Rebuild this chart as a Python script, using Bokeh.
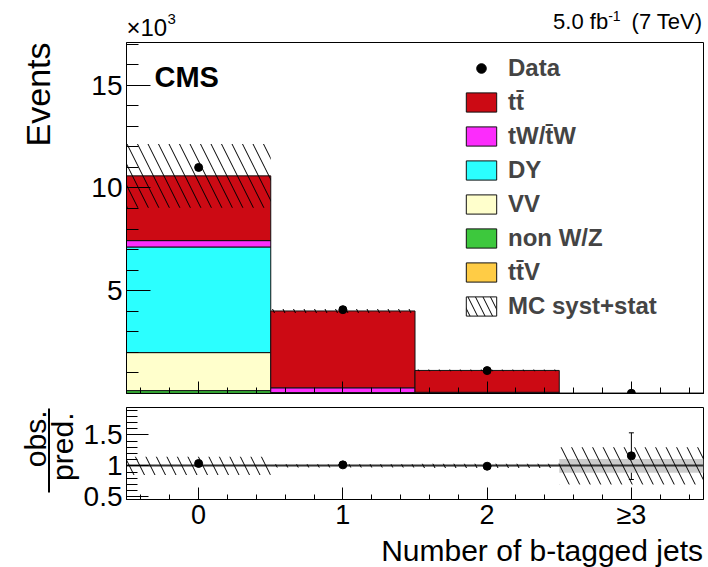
import numpy as np
from math import pi
from bokeh.plotting import figure
from bokeh.layouts import column, row
from bokeh.models import (ColumnDataSource, Range1d, FixedTicker, Label, Legend,
                          LegendItem, Whisker, TeeHead)
from bokeh.embed import file_html
from bokeh.resources import INLINE

# ---------------- data (events per bin) ----------------
bins = [0, 1, 2, 3]
bin_labels = ["0", "1", "2", "\u22653"]
ttV = [10, 15, 10, 1.0]
nonWZ = [130, 3, 2, 0.3]
VV = [1850, 8, 2, 0.1]
DY = [5140, 20, 5, 0.3]
tW = [310, 230, 40, 0.7]
ttbar = [3150, 3740, 1063, 6.2]
data = [11000, 4080, 1115, 10]
data_err_lo = [105, 64, 33, 3.3]
data_err_hi = [105, 64, 34, 3.2]
syst_unc = [1550, 100, 40, 2.6]
mc_stat_unc = [40, 25, 11, 0.95]

main_yticks = [5, 10, 15]
ratio_yticks = [0.5, 1.0, 1.5]
ratio_ytick_labels = ["0.5", "1", "1.5"]

FONT = "Liberation Sans"
TOTAL_W, TOTAL_H = 708, 567
LW = 80                 # left text column
RW = TOTAL_W - LW       # right column
HT, H1, H2, HB = 41, 359, 133, 34
BL, BR = 45, 5
FX0, FX1 = LW + BL, TOTAL_W - BR   # page x of frame edges (125, 703)
X0, X1 = -0.5, 3.5
Y1MAX = 17.08
R0, R1 = 0.455, 1.945
HATCH = 21
MID = 0.3465  # distance baseline -> middle of text box, in em


def blank(w, h, xr, yr, bl=0, br=0):
    f = figure(width=w, height=h, x_range=Range1d(*xr), y_range=Range1d(*yr),
               output_backend="svg", toolbar_location=None, min_border=0,
               min_border_left=bl, min_border_right=br, min_border_top=0, min_border_bottom=0,
               x_axis_type=None, y_axis_type=None, title=None)
    f.outline_line_color = None
    return f


def text(fig, x, y, t, size, align="left", angle=0, style="normal"):
    fig.add_layout(Label(x=x, y=y, text=t, text_font=FONT, text_font_size=f"{size}px",
                         text_align=align, angle=angle, text_baseline="middle",
                         text_font_style=style, text_color="black"))


def style_axis(ax, size):
    ax.major_label_text_font = FONT
    ax.major_label_text_font_size = f"{size}px"
    ax.major_label_text_color = "black"
    ax.axis_line_color = "black"
    ax.major_tick_line_color = "black"
    ax.minor_tick_line_color = "black"
    ax.major_tick_out = 0
    ax.minor_tick_out = 0


# ---------------- main panel ----------------
p1 = figure(width=RW, height=H1, x_range=Range1d(X0, X1), y_range=Range1d(0, Y1MAX),
            output_backend="svg", toolbar_location=None, title=None,
            min_border_left=BL, min_border_right=BR, min_border_top=1, min_border_bottom=7)
p1.xgrid.visible = False
p1.ygrid.visible = False
p1.outline_line_color = "black"

x = np.array(bins, dtype=float)
stack = [("ttV", ttV, "#ffcc45"), ("nonWZ", nonWZ, "#3dc83d"), ("VV", VV, "#ffffcc"),
         ("DY", DY, "#2bffff"), ("tW", tW, "#fc2cfc"), ("tt", ttbar, "#cc0a14")]
bottom = np.zeros(len(bins))
rends = {}
for name, vals, col in stack:
    top = bottom + np.array(vals) / 1000.0
    src = ColumnDataSource(dict(left=x - 0.5, right=x + 0.5, bottom=bottom, top=top))
    rends[name] = p1.quad(left="left", right="right", bottom="bottom", top="top", source=src,
                          fill_color=col, line_color="#111111", line_width=1)
    bottom = top
total = bottom  # thousands of events
unc = np.array(syst_unc) / 1000.0
usrc = ColumnDataSource(dict(left=x - 0.5, right=x + 0.5, bottom=total - unc, top=total + unc))
p1.quad(left="left", right="right", bottom="bottom", top="top", source=usrc,
        fill_alpha=0, line_color=None, hatch_pattern="left_diagonal_line",
        hatch_color="black", hatch_weight=1, hatch_scale=HATCH)
# legend-only swatch for the uncertainty (NaN geometry: not drawn in the plot)
nan = [np.nan]
leg_unc = p1.quad(left=nan, right=nan, bottom=nan, top=nan, fill_color="white",
                  line_color="#111111", hatch_pattern="left_diagonal_line",
                  hatch_color="black", hatch_weight=1, hatch_scale=15)

d = np.array(data) / 1000.0
dsrc = ColumnDataSource(dict(x=x, y=d, lo=d - np.array(data_err_lo) / 1000.0,
                             hi=d + np.array(data_err_hi) / 1000.0))
p1.add_layout(Whisker(source=dsrc, base="x", lower="lo", upper="hi", dimension="height",
                      line_color="black", line_width=1,
                      upper_head=TeeHead(size=5, line_color="black"),
                      lower_head=TeeHead(size=5, line_color="black")))
r_data = p1.scatter("x", "y", source=dsrc, size=8, color="black")

legend = Legend(items=[
    LegendItem(label="Data", renderers=[r_data]),
    LegendItem(label="tt\u0304", renderers=[rends["tt"]]),
    LegendItem(label="tW/t\u0304W", renderers=[rends["tW"]]),
    LegendItem(label="DY", renderers=[rends["DY"]]),
    LegendItem(label="VV", renderers=[rends["VV"]]),
    LegendItem(label="non W/Z", renderers=[rends["nonWZ"]]),
    LegendItem(label="tt\u0304V", renderers=[rends["ttV"]]),
    LegendItem(label="MC syst+stat", renderers=[leg_unc]),
], location=(336, 73), border_line_color=None, background_fill_alpha=0,
    label_text_font=FONT, label_text_font_style="bold", label_text_font_size="24px",
    glyph_width=38, glyph_height=24, label_height=24, label_standoff=8, spacing=6,
    padding=0, margin=0)
p1.add_layout(legend)

xminor = [v for v in (round(-0.4 + 0.2 * i, 1) for i in range(20)) if abs(v - round(v)) > 1e-6]
style_axis(p1.xaxis, 1)
p1.xaxis.ticker = FixedTicker(ticks=bins, minor_ticks=xminor)
p1.xaxis.major_label_text_color = None
p1.xaxis.major_label_standoff = 0
p1.xaxis.major_tick_in = 12
p1.xaxis.minor_tick_in = 6
style_axis(p1.yaxis, 28)
p1.yaxis.ticker = FixedTicker(ticks=main_yticks, minor_ticks=[v for v in range(1, 18) if v % 5])
p1.yaxis.major_tick_in = 24
p1.yaxis.minor_tick_in = 12
p1.yaxis.major_label_standoff = 4

# CMS: left edge at page x 153, baseline at page y 87
F1H = H1 - 1 - 7
cms_y = Y1MAX - (87 - MID * 29 - 42) * Y1MAX / F1H
text(p1, -0.306, cms_y, "CMS", 29, style="bold")

# ---------------- ratio panel ----------------
p2 = figure(width=RW, height=H2, x_range=p1.x_range, y_range=Range1d(R0, R1),
            output_backend="svg", toolbar_location=None, title=None,
            min_border_left=BL, min_border_right=BR, min_border_top=7, min_border_bottom=H2 - 7 - 92)
p2.xgrid.visible = False
p2.ygrid.visible = False
p2.outline_line_color = "black"

tot_ev = total * 1000.0
st = np.array(mc_stat_unc) / tot_ev
sy = np.array(syst_unc) / tot_ev
p2.quad(left=x - 0.5, right=x + 0.5, bottom=1 - st, top=1 + st, fill_color="#cccccc", line_color=None)
p2.hspan(y=[1.0], line_color="#333333", line_width=2)
p2.quad(left=x - 0.5, right=x + 0.5, bottom=1 - sy, top=1 + sy, fill_alpha=0, line_color=None,
        hatch_pattern="left_diagonal_line", hatch_color="black", hatch_weight=1, hatch_scale=HATCH)
ratio = np.array(data) / tot_ev
rsrc = ColumnDataSource(dict(x=x, y=ratio, lo=ratio - np.array(data_err_lo) / tot_ev,
                             hi=ratio + np.array(data_err_hi) / tot_ev))
p2.add_layout(Whisker(source=rsrc, base="x", lower="lo", upper="hi", dimension="height",
                      line_color="black", line_width=1,
                      upper_head=TeeHead(size=5, line_color="black"),
                      lower_head=TeeHead(size=5, line_color="black")))
p2.scatter("x", "y", source=rsrc, size=8, color="black")

style_axis(p2.xaxis, 27)
p2.xaxis.ticker = FixedTicker(ticks=bins, minor_ticks=xminor)
p2.xaxis.major_label_overrides = {b: l for b, l in zip(bins, bin_labels)}
p2.xaxis.major_tick_in = 12
p2.xaxis.minor_tick_in = 5
p2.xaxis.major_label_standoff = 0
style_axis(p2.yaxis, 28)
rminor = [round(0.5 + 0.1 * i, 1) for i in range(15) if (i % 5)]
p2.yaxis.ticker = FixedTicker(ticks=ratio_yticks, minor_ticks=rminor)
p2.yaxis.major_label_overrides = {v: l for v, l in zip(ratio_yticks, ratio_ytick_labels)}
p2.yaxis.major_tick_in = 22
p2.yaxis.minor_tick_in = 11
p2.yaxis.major_label_standoff = 4

# ---------------- text panels (page-pixel coordinates) ----------------
# top strip: frame aligned with the plots; x = page px, y = HT - page_y
ptop = blank(RW, HT, (FX0, FX1), (0, HT), BL, BR)
text(ptop, 125, HT - (35.8 - MID * 24), "\u00d710", 24)
text(ptop, 166, HT - (24 - MID * 15), "3", 15)
text(ptop, 702, HT - (29 - MID * 22), "(7 TeV)", 22, align="right")
text(ptop, 620, HT - (20 - MID * 14), "-1", 14, align="right")
text(ptop, 607.5, HT - (29 - MID * 22), "5.0 fb", 22, align="right")

# bottom strip: y = TOTAL_H - page_y
pbot = blank(RW, HB, (FX0, FX1), (0, HB), BL, BR)
text(pbot, 702.5, TOTAL_H - (560.4 - MID * 30), "Number of b-tagged jets", 30, align="right")

# left strip: y = TOTAL_H - page_y ; rotated text: baseline x minus MID*size
pleft = blank(LW, TOTAL_H, (0, LW), (0, TOTAL_H))
text(pleft, 49 - MID * 34, TOTAL_H - 42, "Events", 34, align="right", angle=pi / 2)
text(pleft, 45 - MID * 30, TOTAL_H - 410, "obs.", 30, align="right", angle=pi / 2)
text(pleft, 72 - MID * 30, TOTAL_H - 412, "pred.", 30, align="right", angle=pi / 2)
pleft.segment(x0=[48.5], y0=[TOTAL_H - 408], x1=[48.5], y1=[TOTAL_H - 492],
              line_color="black", line_width=2)

layout = row(pleft, column(ptop, p1, p2, pbot, spacing=0), spacing=0)
open("out.html", "w").write(file_html(layout, INLINE))
